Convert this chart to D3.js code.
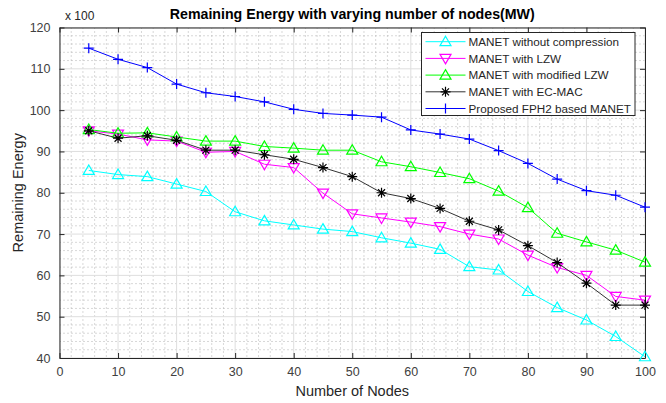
<!DOCTYPE html>
<html>
<head>
<meta charset="utf-8">
<script src="https://cdn.jsdelivr.net/npm/d3@7"></script>
<style>
  body { margin: 0; background: #fff; }
  text { font-family: "Liberation Sans", Arial, sans-serif; }
</style>
</head>
<body>
<div id="chart"></div>
<script>
// data (values in units of x100)
let nodes = [5, 10, 15, 20, 25, 30, 35, 40, 45, 50, 55, 60, 65, 70, 75, 80, 85, 90, 95, 100];
let noCompression = [85.4, 84.4, 83.9, 82.1, 80.3, 75.4, 73.2, 72.2, 71.2, 70.6, 69.1, 67.8, 66.3, 62.1, 61.3, 56.1, 52.2, 49.2, 45.2, 40.3];
let withLZW = [95, 94.2, 92.8, 92.5, 89.8, 90, 86.9, 86.1, 79.9, 74.9, 73.9, 72.9, 71.8, 70, 68.8, 64.9, 61.9, 60, 54.9, 54];
let modifiedLZW = [95.3, 94.4, 94.5, 93.5, 92.5, 92.5, 91.2, 90.8, 90.3, 90.3, 87.5, 86.3, 84.9, 83.4, 80.4, 76.4, 70.2, 68.1, 66.1, 63.2];
let ecMac = [95, 93.2, 93.8, 92.7, 90.3, 90.3, 89.2, 88.1, 86.1, 83.9, 80, 78.6, 76.2, 73.1, 71, 67.2, 63.1, 58.1, 52.8, 52.8];
let fph2 = [115, 112.3, 110.3, 106.3, 104.2, 103.3, 102, 100.2, 99.2, 98.8, 98.3, 95.2, 94.2, 93, 90.2, 87.1, 83.3, 80.5, 79.4, 76.5];

let xTicks = [0, 10, 20, 30, 40, 50, 60, 70, 80, 90, 100];
let yTicks = [40, 50, 60, 70, 80, 90, 100, 110, 120];

let series = [
  { name: "MANET without compression", values: noCompression, color: "#00ffff", marker: "up" },
  { name: "MANET with LZW", values: withLZW, color: "#ff00ff", marker: "down" },
  { name: "MANET with modified LZW", values: modifiedLZW, color: "#00ff00", marker: "up" },
  { name: "MANET with EC-MAC", values: ecMac, color: "#000000", marker: "star" },
  { name: "Proposed FPH2 based MANET", values: fph2, color: "#0000ff", marker: "plus" }
];

let svgWidth = 666;
let svgHeight = 403;
let margin = { top: 27.5, right: 21, bottom: 45, left: 59.5 };
let width = svgWidth - margin.left - margin.right;
let height = svgHeight - margin.top - margin.bottom;

let svg = d3.select("#chart").append("svg")
  .attr("width", svgWidth)
  .attr("height", svgHeight);

let g = svg.append("g")
  .attr("transform", `translate(${margin.left}, ${margin.top})`);

let x = d3.scaleLinear().domain([0, 100]).range([0, width]);
let y = d3.scaleLinear().domain([40, 120]).range([height, 0]);

// minor grid (dotted)
let minorX = d3.range(0, 101, 2).filter(v => v % 10 !== 0);
let minorY = d3.range(40, 121, 2).filter(v => v % 10 !== 0);

g.append("g").selectAll("line").data(minorX).enter().append("line")
  .attr("x1", d => x(d)).attr("x2", d => x(d))
  .attr("y1", 0).attr("y2", height)
  .attr("stroke", "#b0b0b0").attr("stroke-width", 1)
  .attr("stroke-dasharray", "1,3");

g.append("g").selectAll("line").data(minorY).enter().append("line")
  .attr("y1", d => y(d)).attr("y2", d => y(d))
  .attr("x1", 0).attr("x2", width)
  .attr("stroke", "#b0b0b0").attr("stroke-width", 1)
  .attr("stroke-dasharray", "1,3");

// major grid
g.append("g").selectAll("line").data(xTicks).enter().append("line")
  .attr("x1", d => x(d)).attr("x2", d => x(d))
  .attr("y1", 0).attr("y2", height)
  .attr("stroke", "#dedede").attr("stroke-width", 1);

g.append("g").selectAll("line").data(yTicks).enter().append("line")
  .attr("y1", d => y(d)).attr("y2", d => y(d))
  .attr("x1", 0).attr("x2", width)
  .attr("stroke", "#dedede").attr("stroke-width", 1);

// axes, ticks inward
let bottomAxis = d3.axisBottom(x).tickValues(xTicks).tickSizeInner(-5).tickSizeOuter(0).tickPadding(9);
let leftAxis = d3.axisLeft(y).tickValues(yTicks).tickSizeInner(-5).tickSizeOuter(0).tickPadding(9);
let topAxis = d3.axisTop(x).tickValues(xTicks).tickSizeInner(-5).tickSizeOuter(0).tickFormat("");
let rightAxis = d3.axisRight(y).tickValues(yTicks).tickSizeInner(-5).tickSizeOuter(0).tickFormat("");

function styleAxis(sel) {
  sel.select(".domain").attr("stroke", "#262626");
  sel.selectAll(".tick line").attr("stroke", "#262626");
  sel.selectAll(".tick text").attr("fill", "#404040").attr("font-size", 12.5)
    .attr("font-family", "Liberation Sans, Arial, sans-serif");
}

g.append("g").attr("transform", `translate(0, ${height})`).call(bottomAxis).call(styleAxis);
g.append("g").call(leftAxis).call(styleAxis);
g.append("g").call(topAxis).call(styleAxis);
g.append("g").attr("transform", `translate(${width}, 0)`).call(rightAxis).call(styleAxis);

// lines
let line = d3.line()
  .x((d, i) => x(nodes[i]))
  .y(d => y(d));

function drawMarker(sel, type, color) {
  if (type === "up") {
    sel.append("path").attr("d", "M0,-5.5 L5.5,4 L-5.5,4 Z")
      .attr("fill", "none").attr("stroke", color).attr("stroke-width", 1.2);
  } else if (type === "down") {
    sel.append("path").attr("d", "M0,5.5 L5.5,-4 L-5.5,-4 Z")
      .attr("fill", "none").attr("stroke", color).attr("stroke-width", 1.2);
  } else if (type === "plus") {
    sel.append("path").attr("d", "M-5,0 L5,0 M0,-5 L0,5")
      .attr("stroke", color).attr("stroke-width", 1.2);
  } else if (type === "star") {
    sel.append("path").attr("d", "M-5,0 L5,0 M0,-5 L0,5 M-3.5,-3.5 L3.5,3.5 M-3.5,3.5 L3.5,-3.5")
      .attr("stroke", color).attr("stroke-width", 1.2);
  }
}

series.forEach(s => {
  g.append("path")
    .datum(s.values)
    .attr("d", line)
    .attr("fill", "none")
    .attr("stroke", s.color === "#000000" ? "#333" : s.color)
    .attr("stroke-width", 1);

  g.append("g").selectAll("g")
    .data(s.values)
    .enter()
    .append("g")
    .attr("transform", (d, i) => `translate(${x(nodes[i])}, ${y(d)})`)
    .each(function() { drawMarker(d3.select(this), s.marker, s.color); });
});

// legend
let legend = svg.append("g").attr("transform", "translate(421.5, 32.5)");
legend.append("rect")
  .attr("width", 213.5).attr("height", 83)
  .attr("fill", "#fff").attr("stroke", "#262626").attr("stroke-width", 1);

series.forEach((s, i) => {
  let row = legend.append("g").attr("transform", `translate(0, ${9.2 + i * 16.7})`);
  row.append("line").attr("x1", 4).attr("x2", 44).attr("y1", 0).attr("y2", 0)
    .attr("stroke", s.color === "#000000" ? "#333" : s.color).attr("stroke-width", 1);
  drawMarker(row.append("g").attr("transform", "translate(24, 0)"), s.marker, s.color);
  row.append("text").attr("x", 47).attr("y", 4.2)
    .attr("font-size", 11.7).attr("fill", "#262626")
    .text(s.name);
});

// title and labels
svg.append("text")
  .attr("x", margin.left + width / 2).attr("y", 19)
  .attr("text-anchor", "middle")
  .attr("font-size", 14.2).attr("font-weight", "bold").attr("fill", "#000")
  .text("Remaining Energy with varying number of nodes(MW)");

svg.append("text")
  .attr("x", 65).attr("y", 20)
  .attr("font-size", 12).attr("fill", "#262626")
  .text("x 100");

svg.append("text")
  .attr("x", margin.left + width / 2).attr("y", 396)
  .attr("text-anchor", "middle")
  .attr("font-size", 14.5).attr("fill", "#262626")
  .text("Number of Nodes");

svg.append("text")
  .attr("transform", `translate(23, ${margin.top + height / 2}) rotate(-90)`)
  .attr("text-anchor", "middle")
  .attr("font-size", 14.5).attr("fill", "#262626")
  .text("Remaining Energy");
</script>
</body>
</html>
